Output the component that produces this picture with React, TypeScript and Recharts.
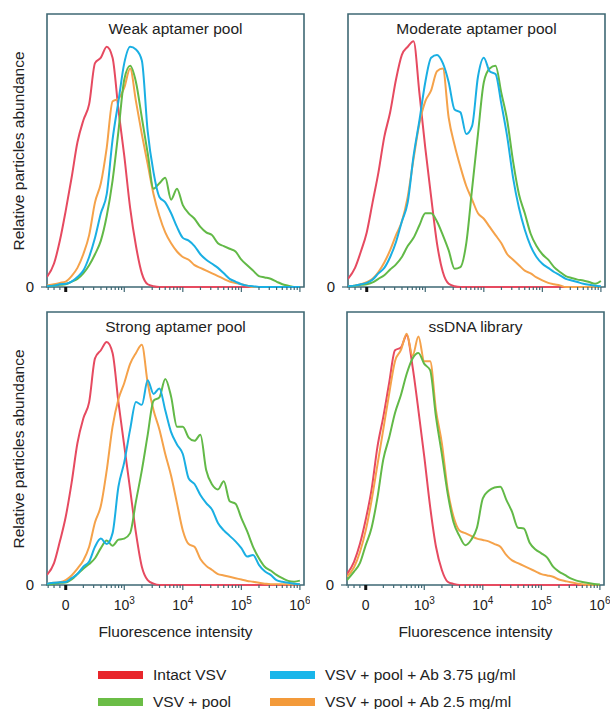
import React from 'react';
import { LineChart, Line, XAxis, YAxis, ReferenceArea } from 'recharts';

// x positions in "decade" units of the biexponential axis: 0 -> 0, 1 -> 10^3, 2 -> 10^4, 3 -> 10^5, 4 -> 10^6
const U = [
  -0.32, -0.2, -0.1, 0, 0.1, 0.2, 0.3, 0.4, 0.5, 0.6, 0.7, 0.8, 0.9, 1.0, 1.1, 1.2, 1.3, 1.4, 1.5, 1.6, 1.7, 1.8,
  1.9, 2.0, 2.1, 2.2, 2.3, 2.4, 2.5, 2.6, 2.7, 2.8, 2.9, 3.0, 3.1, 3.2, 3.3, 3.4, 3.5, 3.6, 3.7, 3.8, 3.9, 4.0,
];

const MAJOR_TICKS = [0, 1, 2, 3, 4];
const MAJOR_LABELS = ['0', '3', '4', '5', '6']; // exponent of 10 (except 0)

// weak aptamer pool
const WEAK_INTACT = [3.7, 8.6, 17, 28, 40, 53, 61, 67, 82, 84, 88, 84, 65, 48, 29, 15, 5, 1, 0.3, 0, 0, 0, 0, 0, 0, 0, 0, 0, 0, 0, 0, 0, 0, 0, 0, 0, 0, 0, 0, 0, 0, 0, 0, 0];
const WEAK_POOL = [0.3, 0.5, 0.8, 1, 2, 3, 5, 8, 12, 17, 26, 39, 57, 76, 81, 75, 62, 49, 36, 38, 40, 32, 36, 30, 27, 25, 22, 20, 19, 16, 15, 14, 13, 10, 8, 6, 4, 3.5, 3, 2, 1, 0.5, 0, 0];
const WEAK_AB_LOW = [0.3, 0.5, 1, 1.2, 2, 3.7, 6, 11, 18, 27, 34, 54, 68, 82, 88, 87, 83, 57, 42, 33, 31, 27, 22, 18, 17, 15, 12, 10, 8.5, 7, 5, 3, 2, 1, 0.5, 0.3, 0, 0, 0, 0, 0, 0, 0, 0];
const WEAK_AB_HIGH = [0.5, 1, 1.5, 2, 4, 7, 12, 19, 31, 38, 51, 68, 69, 73, 80, 68, 56, 45, 34, 26, 20, 16, 13, 11, 10, 8, 7, 6, 5, 4, 3, 2, 1.5, 1, 0.5, 0, 0, 0, 0, 0, 0, 0, 0, 0];

// moderate aptamer pool
const MOD_INTACT = [3, 7, 13, 20, 31, 42, 55, 64, 76, 85, 88, 90, 71, 51, 33, 16, 5.5, 1.2, 0.3, 0, 0, 0, 0, 0, 0, 0, 0, 0, 0, 0, 0, 0, 0, 0, 0, 0, 0, 0, 0, 0, 0, 0, 0, 0];
const MOD_POOL = [0.3, 0.5, 0.8, 1, 1.7, 3, 4.3, 6.4, 8.3, 11, 15, 18, 22.6, 27, 27, 24, 19, 13.4, 6.7, 7.3, 16, 36, 56, 75, 80, 81, 71, 61, 46, 34, 27, 19.5, 15, 12, 10, 7.3, 5.5, 4, 3.3, 2.7, 2.4, 1.8, 1.2, 2.2];
const MOD_AB_LOW = [0.3, 0.5, 1, 1.5, 2.7, 5, 7, 11, 16.5, 24, 31, 48, 61, 75, 84, 85, 82, 75, 65, 64, 56, 59, 77, 84, 79, 78, 67, 55, 40, 29, 21, 15, 11, 8.5, 7, 5.5, 4.3, 3, 2.4, 1.8, 1.2, 0.8, 0.5, 0.3];
const MOD_AB_HIGH = [0.3, 0.5, 1, 1.8, 3, 5.5, 9, 13.5, 19, 24, 33, 47, 60, 68, 72, 79, 80, 62, 52, 44, 37, 32, 27, 25, 22, 19, 16, 12, 10, 8, 6, 5, 3.5, 2.4, 1.5, 1, 0.6, 0, 0, 0, 0, 0, 0, 0];

// strong aptamer pool
const STRONG_INTACT = [3.7, 8, 16, 25, 37.4, 52, 61, 67, 83, 86, 89, 85, 67, 51, 35, 19, 6.7, 1.8, 0.5, 0, 0, 0, 0, 0, 0, 0, 0, 0, 0, 0, 0, 0, 0, 0, 0, 0, 0, 0, 0, 0, 0, 0, 0, 0];
const STRONG_POOL = [0.3, 0.5, 0.8, 0.9, 2, 4, 6, 7.7, 9.8, 13.5, 16.3, 14.4, 16.6, 17, 19, 30.7, 42, 55, 67.5, 68.7, 75.5, 69, 58, 58, 54, 52.8, 55, 42, 36.8, 35, 38, 30.7, 29.8, 24.5, 19.6, 14, 9.8, 6.7, 5.3, 3.7, 2.5, 1.5, 1.2, 1.6];
const STRONG_AB_LOW = [0.5, 0.8, 1, 1.1, 2.5, 4, 6.7, 8.6, 14, 17, 15, 19, 36, 45, 57, 67, 66, 75, 70, 72, 64, 56, 51.5, 48, 39, 37, 33, 30, 27.6, 22.7, 20, 18, 16, 13.5, 10.4, 11, 7.4, 5, 3.7, 1.8, 1.2, 0.8, 0.5, 0.3];
const STRONG_AB_HIGH = [0.5, 0.8, 1, 1.8, 3.5, 6, 9, 14, 23, 29, 42, 58, 68, 74, 81, 85, 88, 74, 64, 57, 48, 40, 30, 20, 15, 14, 9.5, 7, 5.5, 4, 3.5, 3, 2.5, 2, 1.5, 1.2, 0.8, 0.5, 0.3, 0.3, 0.3, 0.2, 0.2, 0.2];

// ssDNA library
const LIB_INTACT = [4, 8.5, 15, 24, 35, 50.6, 61.6, 74, 86, 87, 91.5, 80, 64, 47, 28.7, 14, 5.5, 1.2, 0.4, 0, 0, 0, 0, 0, 0, 0, 0, 0, 0, 0, 0, 0, 0, 0, 0, 0, 0, 0, 0, 0, 0, 0, 0, 0];
const LIB_POOL = [1.8, 4.9, 8, 14.6, 21, 32, 46, 54, 63, 69.5, 77.4, 83, 85, 81, 78.7, 61.6, 48, 33.5, 23, 18, 14.6, 16.5, 21, 31.7, 34.5, 35.7, 36, 31.3, 26.8, 21, 20.7, 15.5, 13, 11.6, 10, 6.7, 4.9, 3.7, 2.4, 1.6, 1.1, 0.7, 0.4, 0.2];
const LIB_AB_HIGH = [3, 6.5, 12, 20, 31, 44, 57, 70, 82, 86, 92, 84, 91, 82, 82, 64, 52, 35, 25, 20, 19, 18, 17, 16.5, 16, 15, 14, 11, 9, 8, 7, 6, 5, 4, 3.5, 3, 2, 1.5, 1, 0.6, 0.3, 0, 0, 0];

const SERIES = [
  { key: 'intact', name: 'Intact VSV', color: '#e64a60', swatch: '#e8262b' },
  { key: 'abHigh', name: 'VSV + pool + Ab 2.5 mg/ml', color: '#f5a24a', swatch: '#f39a3a' },
  { key: 'pool', name: 'VSV + pool', color: '#62b947', swatch: '#6bbd46' },
  { key: 'abLow', name: 'VSV + pool + Ab 3.75 \u00b5g/ml', color: '#1aafe3', swatch: '#19b6ea' },
];

const PANELS = [
  { title: 'Weak aptamer pool', left: 0, top: 0, bottom: false, values: { intact: WEAK_INTACT, pool: WEAK_POOL, abLow: WEAK_AB_LOW, abHigh: WEAK_AB_HIGH } },
  { title: 'Moderate aptamer pool', left: 301, top: 0, bottom: false, values: { intact: MOD_INTACT, pool: MOD_POOL, abLow: MOD_AB_LOW, abHigh: MOD_AB_HIGH } },
  { title: 'Strong aptamer pool', left: 0, top: 298, bottom: true, values: { intact: STRONG_INTACT, pool: STRONG_POOL, abLow: STRONG_AB_LOW, abHigh: STRONG_AB_HIGH } },
  { title: 'ssDNA library', left: 300, top: 298, bottom: true, values: { intact: LIB_INTACT, pool: LIB_POOL, abHigh: LIB_AB_HIGH } },
];

const X_DOMAIN: [number, number] = [-0.32, 4.07];
const FONT = '"Liberation Sans", Arial, Helvetica, sans-serif';
const BOX = '#3f6874';

// minor ticks: linear part left of 0, then log spacing
const MINOR_TICKS: number[] = [-0.3, -0.2, -0.1];
for (let k = 2; k <= 9; k++) MINOR_TICKS.push(1 + Math.log10(k / 10));
for (let d = 1; d <= 3; d++) for (let k = 2; k <= 9; k++) MINOR_TICKS.push(d + Math.log10(k));
const ALL_TICKS = [...MAJOR_TICKS, ...MINOR_TICKS].sort((a, b) => a - b);

function AxisTick(props: any) {
  const { x, y, payload, showLabel } = props;
  const v = payload.value;
  const idx = MAJOR_TICKS.indexOf(v);
  const major = idx >= 0;
  return (
    <g>
      <line
        x1={x}
        x2={x}
        y1={y}
        y2={y + (major ? 5 : 3)}
        stroke={v === 0 ? '#111' : BOX}
        strokeWidth={v === 0 ? 3 : 1.2}
      />
      {major && showLabel && (
        <text x={x} y={y + 25} textAnchor="middle" fontSize={14} fill="#222" fontFamily={FONT}>
          {v === 0 ? (
            '0'
          ) : (
            <>
              <tspan>10</tspan>
              <tspan dy={-6} fontSize={10}>
                {MAJOR_LABELS[idx]}
              </tspan>
            </>
          )}
        </text>
      )}
    </g>
  );
}

function Panel({ panel }: { panel: (typeof PANELS)[number] }) {
  const data = U.map((u, i) => {
    const row: Record<string, number> = { u };
    Object.entries(panel.values).forEach(([k, arr]) => {
      row[k] = (arr as number[])[i];
    });
    return row;
  });
  return (
    <div style={{ position: 'absolute', left: panel.left, top: panel.top }}>
      <LineChart width={310} height={320} data={data} margin={{ top: 14, right: 6, bottom: 3, left: 7 }}>
        <XAxis
          dataKey="u"
          type="number"
          domain={X_DOMAIN}
          ticks={ALL_TICKS}
          interval={0}
          allowDataOverflow
          axisLine={false}
          tickLine={false}
          tickSize={0}
          tickMargin={0}
          height={30}
          tick={(p: any) => <AxisTick {...p} showLabel={panel.bottom} />}
        />
        <YAxis
          type="number"
          domain={[0, 100]}
          ticks={[0]}
          width={40}
          axisLine={false}
          tickSize={6}
          tickMargin={7}
          tickLine={{ stroke: BOX, strokeWidth: 1.2 }}
          tick={{ fontSize: 15, fill: '#222', fontFamily: FONT }}
        />
        {SERIES.filter((s) => s.key in panel.values).map((s) => (
          <Line
            key={s.key}
            dataKey={s.key}
            type="monotone"
            stroke={s.color}
            strokeWidth={2}
            dot={false}
            isAnimationActive={false}
          />
        ))}
        <ReferenceArea
          x1={X_DOMAIN[0]}
          x2={X_DOMAIN[1]}
          y1={0}
          y2={100}
          fill="none"
          stroke={BOX}
          strokeWidth={1.6}
          ifOverflow="extendDomain"
        />
      </LineChart>
      <div
        style={{
          position: 'absolute',
          left: 47,
          width: 257,
          top: 19,
          textAlign: 'center',
          fontFamily: FONT,
          fontSize: 15.5,
          color: '#222',
          lineHeight: '20px',
        }}
      >
        {panel.title}
      </div>
      {panel.bottom && (
        <div
          style={{
            position: 'absolute',
            left: 47,
            width: 257,
            top: 324,
            textAlign: 'center',
            fontFamily: FONT,
            fontSize: 15.5,
            color: '#222',
            lineHeight: '20px',
          }}
        >
          Fluorescence intensity
        </div>
      )}
    </div>
  );
}

function YLabel({ cy }: { cy: number }) {
  return (
    <div
      style={{
        position: 'absolute',
        left: 19 - 150,
        top: cy - 10,
        width: 300,
        height: 20,
        lineHeight: '20px',
        textAlign: 'center',
        transform: 'rotate(-90deg)',
        fontFamily: FONT,
        fontSize: 15.5,
        color: '#222',
      }}
    >
      Relative particles abundance
    </div>
  );
}

const LEGEND_ORDER = [
  { key: 'intact', x: 98, y: 675 },
  { key: 'pool', x: 98, y: 702 },
  { key: 'abLow', x: 270, y: 675 },
  { key: 'abHigh', x: 270, y: 702 },
];

export default function App() {
  return (
    <div style={{ position: 'absolute', left: 0, top: 0, width: 614, height: 709, background: '#fff', overflow: 'hidden' }}>
      {PANELS.map((p) => (
        <Panel key={p.title} panel={p} />
      ))}
      <YLabel cy={151} />
      <YLabel cy={449} />
      {LEGEND_ORDER.map((l) => {
        const s = SERIES.find((z) => z.key === l.key)!;
        return (
          <div key={l.key}>
            <div
              style={{
                position: 'absolute',
                left: l.x,
                top: l.y - 4,
                width: 45,
                height: 8,
                background: s.swatch,
              }}
            />
            <div
              style={{
                position: 'absolute',
                left: l.x + 55,
                top: l.y - 10,
                lineHeight: '20px',
                fontFamily: FONT,
                fontSize: 15.5,
                color: '#222',
                whiteSpace: 'nowrap',
              }}
            >
              {s.name}
            </div>
          </div>
        );
      })}
    </div>
  );
}
